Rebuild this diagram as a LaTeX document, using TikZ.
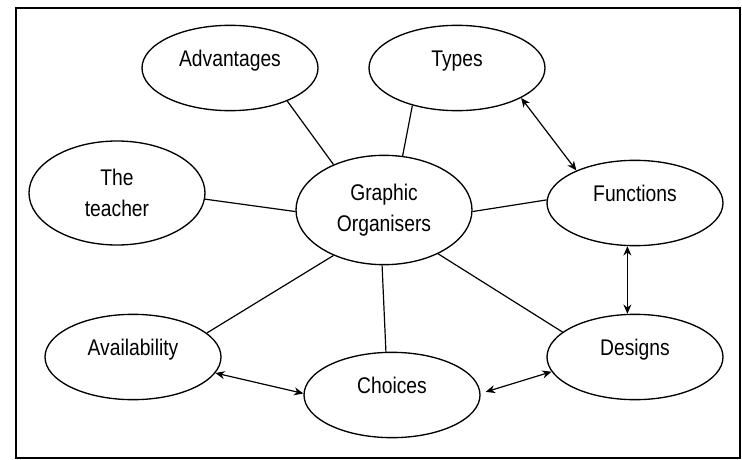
\documentclass[tikz,border=0pt]{standalone}
\usepackage{fontspec}
\setmainfont[FakeStretch=0.85]{Liberation Sans}
\usetikzlibrary{shapes.geometric, arrows.meta}

\begin{document}
\begin{tikzpicture}[x=0.75pt,y=-0.75pt,
    topic/.style={draw,ellipse,line width=1pt,inner sep=0pt,minimum width=132pt,minimum height=64pt,align=center,font=\fontsize{17}{23}\selectfont},
    oneline/.style={topic,text height=12pt,text depth=14pt},
    link/.style={line width=0.9pt},
    twoway/.style={line width=0.9pt,{Stealth[length=7pt,width=6pt]}-{Stealth[length=7pt,width=6pt]}}]
  \useasboundingbox(0,0)rectangle(742,460);
  \draw[line width=1.5pt](16,8)rectangle(740,458);
  \node[oneline](adv)at(230,68){Advantages};
  \node[oneline](types)at(457,68){Types};
  \node[topic,minimum height=78pt](teacher)at(117,193){The\\teacher};
  \node[topic,minimum height=82pt](go)at(384,210){Graphic\\Organisers};
  \node[oneline](func)at(635,203){Functions};
  \node[oneline](avail)at(133,357){Availability};
  \node[oneline](choices)at(392,395){Choices};
  \node[oneline](designs)at(635,357){Designs};
  \draw[link](adv.-30)--(go.138);
  \draw[link](types.220)--(go.71);
  \draw[link](teacher.-4)--(go.181);
  \draw[link](go.-1)--(func.178);
  \draw[link](go.-138)--(avail.18);
  \draw[link](go.-92)--(choices.98);
  \draw[link](go.-39)--(designs.161);
  \draw[twoway](types.-25)--(func.151);
  \draw[twoway](func.-100)--(designs.100);
  \draw[twoway](avail.-11)--(choices.179);
  \draw[twoway,shorten <=4pt](choices.1)--(designs.-170);
\end{tikzpicture}
\end{document}
